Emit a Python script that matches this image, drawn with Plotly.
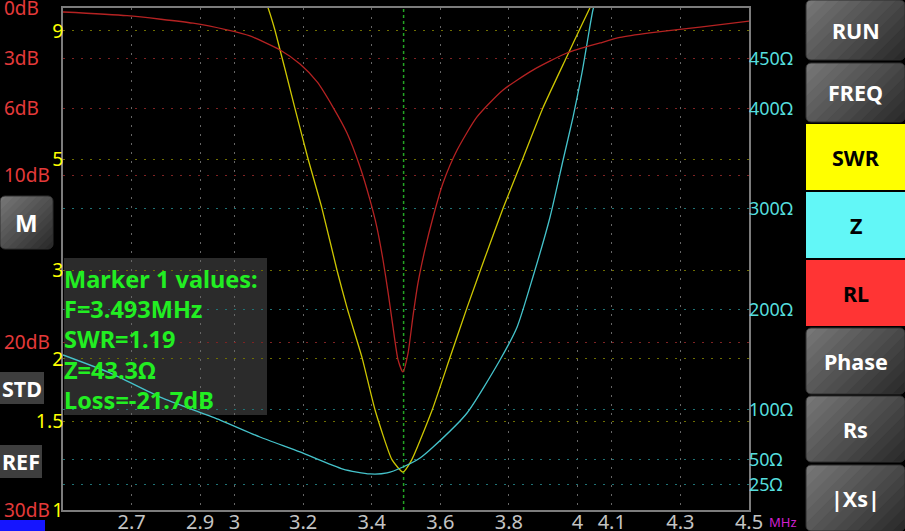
import math
import plotly.graph_objects as go

W, H = 905, 531

# ---------------- data ----------------
freq_ticks = [2.7, 2.9, 3.0, 3.2, 3.4, 3.6, 3.8, 4.0, 4.1, 4.3, 4.5]
freq_labels = ["2.7", "2.9", "3", "3.2", "3.4", "3.6", "3.8", "4", "4.1", "4.3", "4.5"]

swr_ticks = [1, 1.5, 2, 3, 5, 9]
swr_labels = ["1", "1.5", "2", "3", "5", "9"]

rl_ticks = [0, 3, 6, 10, 20, 30]
rl_labels = ["0dB", "3dB", "6dB", "10dB", "20dB", "30dB"]

z_ticks = [25, 50, 100, 200, 300, 400, 450]
z_labels = ["25Ω", "50Ω", "100Ω", "200Ω", "300Ω", "400Ω", "450Ω"]

swr_freq = [3.089, 3.098, 3.118, 3.176, 3.214, 3.255, 3.299, 3.328, 3.372, 3.410,
            3.459, 3.491, 3.517, 3.576, 3.628, 3.678, 3.730, 3.783, 3.841, 3.899,
            3.967, 4.036, 4.048]
swr_vals = [10.37, 10.0, 9.03, 6.32, 5.02, 3.99, 3.00, 2.53, 2.01, 1.58,
            1.26, 1.19, 1.26, 1.58, 2.01, 2.53, 3.18, 3.99, 5.02, 6.32,
            7.95, 10.0, 10.37]

rl_freq = [2.5, 2.687, 2.879, 2.978, 3.045, 3.133, 3.191, 3.241, 3.287, 3.328,
           3.366, 3.395, 3.415, 3.433, 3.448, 3.462, 3.477, 3.491, 3.506, 3.520,
           3.535, 3.555, 3.579, 3.608, 3.649, 3.707, 3.783, 3.870, 3.969, 4.066,
           4.124, 4.211, 4.357, 4.5]
rl_vals = [0.24, 0.46, 0.91, 1.31, 1.67, 2.51, 3.35, 4.42, 5.92, 7.47,
           9.50, 11.47, 13.09, 15.06, 17.03, 19.06, 21.04, 21.75, 20.62, 18.47,
           16.43, 14.46, 12.49, 10.46, 8.49, 6.51, 4.90, 3.71, 2.69, 2.09,
           1.76, 1.49, 1.14, 0.78]

z_freq = [2.5, 2.637, 2.783, 2.958, 3.074, 3.191, 3.316, 3.395, 3.445, 3.491,
          3.541, 3.579, 3.678, 3.774, 3.824, 3.870, 3.920, 3.958, 3.987, 4.013,
          4.028, 4.045, 4.060]
z_vals = [154.4, 136.5, 112.5, 89.6, 72.7, 57.8, 40.8, 35.9, 36.9, 42.8,
          51.8, 62.7, 96.6, 149.4, 182.3, 232.1, 291.8, 348.6, 391.4, 435.3,
          465.1, 498.0, 515.0]

marker_freq = 3.493
marker_lines = ["Marker 1 values:", "F=3.493MHz", "SWR=1.19", "Z=43.3Ω", "Loss=-21.7dB"]

right_buttons = ["RUN", "FREQ", "SWR", "Z", "RL", "Phase", "Rs", "|Xs|"]
left_buttons = ["M", "STD", "REF"]

# ---------------- helpers ----------------
def px(x):
    return x / W


def py(y):
    return 1 - y / H


def rrect_pts(x0, y0, x1, y1, r, n=6):
    pts = []
    corners = [(x0 + r, y0 + r, 180, 270), (x1 - r, y0 + r, 270, 360),
               (x1 - r, y1 - r, 0, 90), (x0 + r, y1 - r, 90, 180)]
    for cx, cy, a0, a1 in corners:
        for k in range(n + 1):
            a = math.radians(a0 + (a1 - a0) * k / n)
            pts.append((cx + r * math.cos(a), cy + r * math.sin(a)))
    return pts


def clip(poly, f):
    out = []
    m = len(poly)
    for i in range(m):
        p, q = poly[i], poly[(i + 1) % m]
        fp, fq = f(p), f(q)
        if fp >= 0:
            out.append(p)
        if (fp >= 0) != (fq >= 0):
            t = fp / (fp - fq)
            out.append((p[0] + t * (q[0] - p[0]), p[1] + t * (q[1] - p[1])))
    return out


def to_path(pts):
    s = "M " + " L ".join(f"{px(x):.5f},{py(y):.5f}" for x, y in pts)
    return s + " Z"


def gradient_button(shapes, x0, y0, x1, y1, r=5, light=(122, 122, 122), dark=(40, 40, 40), n=14):
    poly = rrect_pts(x0, y0, x1, y1, r)
    total = (x1 - x0) + (y1 - y0)
    for k in range(n):
        a = total * k / n - 0.6
        b = total * (k + 1) / n + 0.6
        band = clip(poly, lambda p, a=a: (p[0] - x0) + (p[1] - y0) - a)
        band = clip(band, lambda p, b=b: b - ((p[0] - x0) + (p[1] - y0)))
        if len(band) < 3:
            continue
        t = (k + 0.5) / n
        c = tuple(int(light[i] + (dark[i] - light[i]) * t) for i in range(3))
        shapes.append(dict(type="path", xref="paper", yref="paper", path=to_path(band),
                           fillcolor=f"rgb{c}", line=dict(width=0)))
    shapes.append(dict(type="path", xref="paper", yref="paper", path=to_path(poly),
                       fillcolor="rgba(0,0,0,0)", line=dict(color="#2e2e2e", width=1)))


FONT = "Noto Sans"
PLOT_L, PLOT_R, PLOT_T, PLOT_B = 63, 749, 8, 510
xdom = [px(PLOT_L), px(PLOT_R)]
ydom = [py(PLOT_B), py(PLOT_T)]
DOTS = "2px,7px"

fig = go.Figure()

fig.add_trace(go.Scatter(x=rl_freq, y=rl_vals, yaxis="y3", mode="lines",
                         line=dict(color="#b52222", width=1.3, shape="spline", smoothing=0.6),
                         hoverinfo="skip", showlegend=False))
fig.add_trace(go.Scatter(x=z_freq, y=z_vals, yaxis="y2", mode="lines",
                         line=dict(color="#45c3cb", width=1.3, shape="spline", smoothing=0.6),
                         hoverinfo="skip", showlegend=False))
fig.add_trace(go.Scatter(x=swr_freq, y=swr_vals, yaxis="y", mode="lines",
                         line=dict(color="#cdc600", width=1.3, shape="spline", smoothing=0.5),
                         hoverinfo="skip", showlegend=False))

fig.update_layout(
    width=W, height=H,
    autosize=False,
    margin=dict(l=0, r=0, t=0, b=0, pad=0, autoexpand=False),
    paper_bgcolor="black",
    plot_bgcolor="rgba(0,0,0,0)",
    showlegend=False,
    hovermode=False,
    xaxis=dict(domain=xdom, range=[2.5, 4.5], tickmode="array", tickvals=freq_ticks,
               ticktext=freq_labels, tickfont=dict(family=FONT, size=20, color="#c4c4c4"),
               showgrid=True, gridcolor="#666666", griddash=DOTS, gridwidth=1,
               showline=True, linecolor="#7c7c7c", linewidth=1.5, mirror=True,
               zeroline=False, ticks="", ticklabelstandoff=-7, automargin=False),
    yaxis=dict(domain=ydom, type="log", range=[0, 1], tickmode="array", tickvals=swr_ticks,
               ticktext=swr_labels, tickfont=dict(family=FONT, size=19.5, color="#ffff00"),
               showgrid=True, gridcolor="#6e6e00", griddash=DOTS,
               showline=True, linecolor="#7c7c7c", linewidth=1.5, mirror=True,
               zeroline=False, ticks="", ticklabelstandoff=-6, automargin=False),
    yaxis2=dict(overlaying="y", side="right", anchor="x", range=[0, 500], tickmode="array",
                tickvals=z_ticks, ticktext=z_labels,
                tickfont=dict(family=FONT, size=18, color="#55dede"),
                showgrid=True, gridcolor="#1f7275", griddash=DOTS,
                showline=False, zeroline=False, ticks="", ticklabelstandoff=-1,
                automargin=False),
    yaxis3=dict(overlaying="y", side="left", anchor="free", position=0, range=[30, 0],
                tickmode="array", tickvals=rl_ticks, ticktext=rl_labels,
                ticklabelposition="inside", ticklabeloverflow="allow",
                tickfont=dict(family=FONT, size=19, color="#e53a3a"),
                showgrid=True, gridcolor="#7e2222", griddash=DOTS,
                showline=False, zeroline=False, ticks="", automargin=False),
)

shapes = []
shapes.append(dict(type="rect", xref="paper", yref="paper", layer="below",
                   x0=px(64), x1=px(267), y0=py(415), y1=py(258),
                   fillcolor="#2b2b2b", line=dict(width=0)))
shapes.append(dict(type="line", xref="x", yref="paper", layer="between",
                   x0=marker_freq, x1=marker_freq, y0=ydom[0], y1=ydom[1],
                   line=dict(color="#23a523", width=1.5, dash="3px,3px")))

rb_y = [(0, 60), (63, 122), (124, 190), (192, 258), (260, 326), (328, 394), (396, 462), (465, 531)]
rb_fill = {"SWR": "#ffff00", "Z": "#62f7f7", "RL": "#ff3434"}
annotations = []
for name, (y0, y1) in zip(right_buttons, rb_y):
    if name in rb_fill:
        shapes.append(dict(type="rect", xref="paper", yref="paper", x0=px(806), x1=px(905),
                           y0=py(y1), y1=py(y0), fillcolor=rb_fill[name], line=dict(width=0)))
        col = "black"
    else:
        gradient_button(shapes, 806, y0, 905, y1, 5)
        col = "white"
    annotations.append(dict(xref="paper", yref="paper", x=px(855.5), y=py((y0 + y1) / 2),
                            text=f"<b>{name}</b>", showarrow=False, xanchor="center",
                            yanchor="middle",
                            font=dict(family=FONT, size=21.5, color=col)))

gradient_button(shapes, 0, 196, 53, 249, 5)
annotations.append(dict(xref="paper", yref="paper", x=px(26.5), y=py(223), text="<b>M</b>",
                        showarrow=False, xanchor="center", yanchor="middle",
                        font=dict(family=FONT, size=24, color="white")))
for name, (x1, y0, y1) in zip(left_buttons[1:], [(44, 372, 404), (42, 445, 478)]):
    shapes.append(dict(type="rect", xref="paper", yref="paper", x0=0, x1=px(x1),
                       y0=py(y1), y1=py(y0), fillcolor="#3e3e3e", line=dict(width=0)))
    annotations.append(dict(xref="paper", yref="paper", x=px(x1 / 2), y=py((y0 + y1) / 2),
                            text=f"<b>{name}</b>", showarrow=False,
                            xanchor="center", yanchor="middle",
                            font=dict(family=FONT, size=21.5, color="white")))
shapes.append(dict(type="rect", xref="paper", yref="paper", x0=0, x1=px(45), y0=0, y1=py(520),
                   fillcolor="#1515ff", line=dict(width=0)))

for i, line in enumerate(marker_lines):
    annotations.append(dict(xref="paper", yref="paper", x=px(62), y=py(279 + i * 30.2),
                            text=f"<b>{line}</b>", showarrow=False, xanchor="left",
                            yanchor="middle",
                            font=dict(family=FONT, size=23.5, color="#22ee22")))

annotations.append(dict(xref="paper", yref="paper", x=px(767), y=py(522), text="MHz",
                        showarrow=False, xanchor="left", yanchor="middle",
                        font=dict(family=FONT, size=13, color="#d020d0")))

fig.update_layout(shapes=shapes, annotations=annotations)

fig.write_html(
    "out.html",
    config={"displayModeBar": False},
    post_script=(
        "document.documentElement.style.margin='0';"
        "document.documentElement.style.padding='0';"
        "document.documentElement.style.overflow='hidden';"
        "document.body.style.margin='0';"
        "document.body.style.padding='0';"
        "document.body.style.overflow='hidden';"
        "document.body.style.background='black';"
    ),
)
